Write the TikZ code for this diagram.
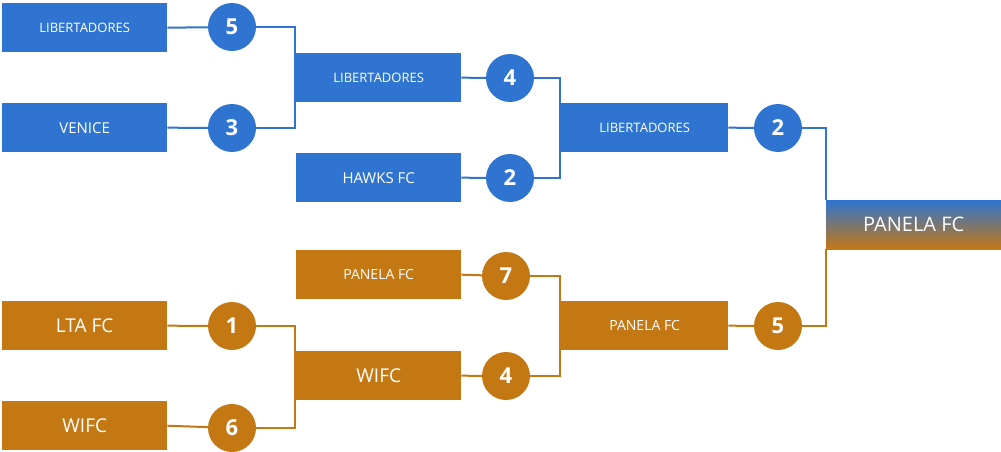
\documentclass[tikz,border=0pt]{standalone}
\usepackage{fontspec}
\setmainfont{Open Sans}
\begin{document}
\begin{tikzpicture}[x=1pt,y=-1pt]
\definecolor{bl}{HTML}{2F74D0}
\definecolor{or}{HTML}{C47814}
\tikzset{team/.style={minimum width=165pt,minimum height=49pt,inner sep=0pt,text=white,anchor=north west},
 sc/.style={circle,minimum size=48pt,inner sep=0pt,text=white,font=\fontsize{22}{22}\selectfont\bfseries},
 ln/.style={line width=2pt}}
\useasboundingbox (0,0) rectangle (1001,452);
% blue
\node[team,fill=bl,font=\fontsize{13}{13}\selectfont] (b1) at (2,3) {LIBERTADORES};
\node[team,fill=bl,font=\fontsize{15}{15}\selectfont] (b2) at (2,103) {VENICE};
\node[team,fill=bl,font=\fontsize{13}{13}\selectfont] (b3) at (296,53) {LIBERTADORES};
\node[team,fill=bl,font=\fontsize{15}{15}\selectfont] (b4) at (296,153) {HAWKS FC};
\node[team,fill=bl,minimum width=167pt,font=\fontsize{13}{13}\selectfont] (b5) at (561,103) {LIBERTADORES};
\node[sc,fill=bl] (s1) at (232,27) {5};
\node[sc,fill=bl] (s2) at (232,128) {3};
\node[sc,fill=bl] (s3) at (510,78) {4};
\node[sc,fill=bl] (s4) at (510,178) {2};
\node[sc,fill=bl] (s5) at (778,128) {2};
% orange
\node[team,fill=or,font=\fontsize{14}{14}\selectfont] (o1) at (296,250) {PANELA FC};
\node[team,fill=or,font=\fontsize{19}{19}\selectfont] (o2) at (2,301) {LTA FC};
\node[team,fill=or,font=\fontsize{19}{19}\selectfont] (o3) at (296,351) {WIFC};
\node[team,fill=or,font=\fontsize{19}{19}\selectfont] (o4) at (2,401) {WIFC};
\node[team,fill=or,minimum width=167pt,font=\fontsize{14}{14}\selectfont] (o5) at (561,301) {PANELA FC};
\node[sc,fill=or] (t1) at (506,276) {7};
\node[sc,fill=or] (t2) at (232,326) {1};
\node[sc,fill=or] (t3) at (506,376) {4};
\node[sc,fill=or] (t4) at (232,428) {6};
\node[sc,fill=or] (t5) at (778,326) {5};
% final
\shade[top color=bl,bottom color=or,middle color=bl!50!or] (826,200) rectangle (1001,249);
\node[team,minimum width=175pt,font=\fontsize{20}{20}\selectfont] (f) at (826,200) {PANELA FC};
% connectors
\begin{scope}[bl,ln]
\draw (b1.east) -- (s1); \draw (b2.east) -- (s2);
\draw (s1) -| (295,78) |- (s2); \draw (295,78) -- (b3.west);
\draw (b3.east) -- (s3); \draw (b4.east) -- (s4);
\draw (s3) -| (560,128) |- (s4); \draw (560,128) -- (b5.west);
\draw (b5.east) -- (s5);
\draw (s5) -| (826,200);
\end{scope}
\begin{scope}[or,ln]
\draw (o2.east) -- (t2); \draw (o4.east) -- (t4);
\draw (t2) -| (295,376) |- (t4); \draw (295,376) -- (o3.west);
\draw (o1.east) -- (t1); \draw (o3.east) -- (t3);
\draw (t1) -| (560,326) |- (t3); \draw (560,326) -- (o5.west);
\draw (o5.east) -- (t5);
\draw (t5) -| (826,249);
\end{scope}
\end{tikzpicture}
\end{document}
